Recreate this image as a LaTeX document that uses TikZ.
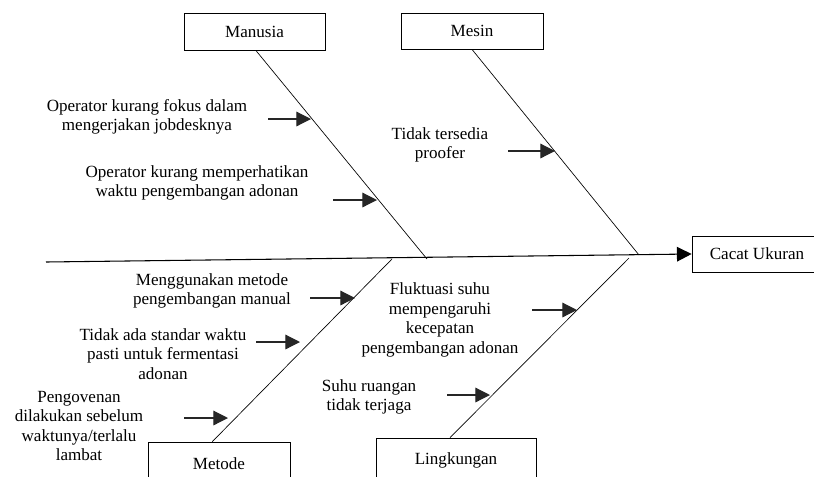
\documentclass[tikz,border=0pt]{standalone}
\usepackage{fontspec}
\setmainfont{Liberation Serif}
\usetikzlibrary{arrows.meta}

\begin{document}
\begin{tikzpicture}[x=0.75pt,y=-0.75pt, every node/.style={font=\fontsize{12.8}{14.7}\selectfont, align=center},
  catbox/.style={draw, line width=0.6pt, inner sep=0pt},
  bone/.style={line width=0.5pt},
  cause/.style={-{Triangle[length=11pt,width=11pt]}, line width=0.9pt, black!85}]
  \clip (0,0) rectangle (814,476);
  % category boxes
  \node[catbox, minimum width=105.75pt, minimum height=27.75pt] (man) at (254.5,31.5) {Manusia};
  \node[catbox, minimum width=106.5pt, minimum height=27pt] (mes) at (472,31) {Mesin};
  \node[catbox, minimum width=106.5pt, minimum height=33pt] (met) at (219,464) {Metode};
  \node[catbox, minimum width=120pt, minimum height=33pt] (lin) at (456,460) {Lingkungan};
  \node[catbox, minimum width=97.5pt, minimum height=27pt] (cacat) at (757,254) {Cacat Ukuran};

  % spine
  \coordinate (tail) at (46,262);
  \draw[-{Triangle[length=11pt,width=11pt]}, line width=0.8pt] (tail) -- (cacat.west);

  % bones
  \coordinate (manend) at (427,259);
  \coordinate (mesend) at (639,255);
  \coordinate (metend) at (392,259);
  \coordinate (linend) at (629,258);
  \draw[bone] ([xshift=1pt]man.south) -- (manend);
  \draw[bone] (mes.south) -- (mesend);
  \draw[bone] ([xshift=-5pt]met.north) -- (metend);
  \draw[bone] ([xshift=-4.5pt]lin.north) -- (linend);

  % causes
  \node (fokus) at (147,117) {Operator kurang fokus dalam\\mengerjakan jobdesknya};
  \node (waktu) at (197,183) {Operator kurang memperhatikan\\waktu pengembangan adonan};
  \node (proofer) at (440,145) {Tidak tersedia\\proofer};
  \node (manual) at (212,291) {Menggunakan metode\\pengembangan manual};
  \node (standar) at (163,354) {Tidak ada standar waktu\\pasti untuk fermentasi\\adonan};
  \node (oven) at (79,426) {Pengovenan\\dilakukan sebelum\\waktunya/terlalu\\lambat};
  \node (fluktuasi) at (440,320) {Fluktuasi suhu\\mempengaruhi\\kecepatan\\pengembangan adonan};
  \node (ruangan) at (369,397) {Suhu ruangan\\tidak terjaga};

  \coordinate (fokusA) at (268,119);   \coordinate (fokusB) at (311,119);
  \coordinate (waktuA) at (333,200);   \coordinate (waktuB) at (377,200);
  \coordinate (prooferA) at (508,151); \coordinate (prooferB) at (555,151);
  \coordinate (manualA) at (310,298);  \coordinate (manualB) at (355,298);
  \coordinate (standarA) at (256,342); \coordinate (standarB) at (300,342);
  \coordinate (ovenA) at (184,418);    \coordinate (ovenB) at (228,418);
  \coordinate (fluktA) at (532,310);   \coordinate (fluktB) at (577,310);
  \coordinate (ruangA) at (447,395);   \coordinate (ruangB) at (490,395);
  \draw[cause] (fokusA) -- (fokusB);
  \draw[cause] (waktuA) -- (waktuB);
  \draw[cause] (prooferA) -- (prooferB);
  \draw[cause] (manualA) -- (manualB);
  \draw[cause] (standarA) -- (standarB);
  \draw[cause] (ovenA) -- (ovenB);
  \draw[cause] (fluktA) -- (fluktB);
  \draw[cause] (ruangA) -- (ruangB);
\end{tikzpicture}
\end{document}
